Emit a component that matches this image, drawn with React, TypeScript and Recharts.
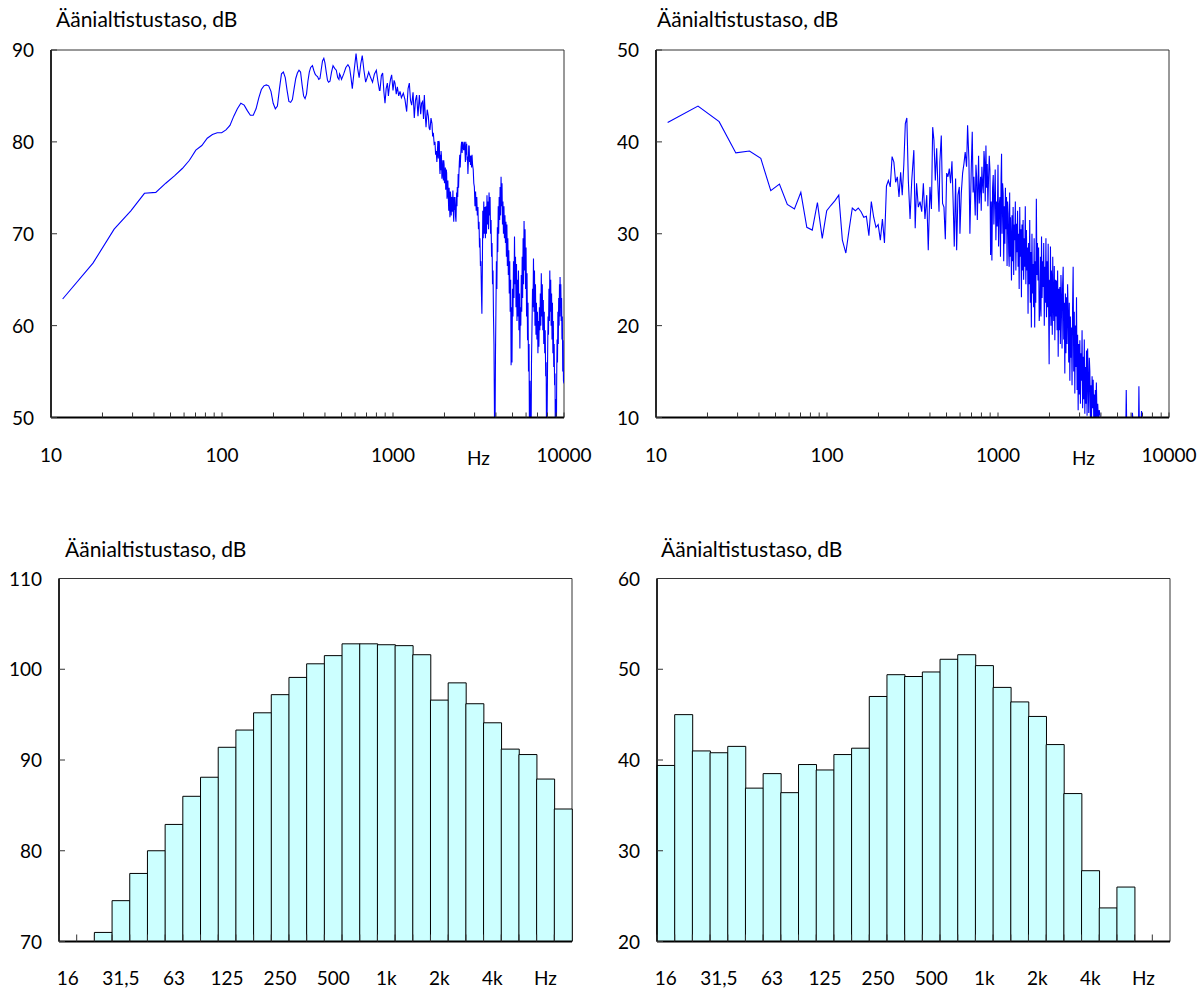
import React from 'react';
import { LineChart, Line, XAxis, YAxis, BarChart, Bar, ReferenceArea } from 'recharts';

const FONT = 'Lato, "Open Sans", "DejaVu Sans", sans-serif';
const TITLE = 'Äänialtistustaso, dB';

// Narrowband spectrum, upper-left panel: [frequency Hz, level dB]
const spectrumA: [number, number][] = [
  [11.7, 62.9], [17.6, 66.8], [23.4, 70.5], [29.3, 72.5], [35.2, 74.4], [41.0, 74.5], [46.9, 75.5], [52.7, 76.3],
  [58.6, 77.1], [64.5, 78.0], [70.3, 79.1], [76.2, 79.6], [82.0, 80.4], [87.9, 80.8], [93.8, 81.0], [99.6, 81.0],
  [105.5, 81.3], [111.3, 81.8], [117.2, 82.8], [123.0, 83.6], [128.9, 84.2], [134.8, 84.0], [140.6, 83.4],
  [146.5, 82.9], [152.3, 82.9], [158.2, 83.6], [164.1, 84.8], [169.9, 85.7], [175.8, 86.1], [181.6, 86.2],
  [187.5, 86.1], [193.4, 85.5], [199.2, 84.2], [205.1, 83.6], [210.9, 83.9], [216.8, 85.8], [222.7, 87.4],
  [228.5, 87.6], [234.4, 87.0], [240.2, 85.6], [246.1, 84.4], [252, 84.3], [258, 84.6], [264, 85.8], [270, 86.9],
  [276, 87.5], [282, 87.8], [288, 87.6], [294, 86.2], [300, 85.0], [306, 84.7], [312, 85.2], [318, 86.6],
  [324, 87.6], [330, 88.1], [338, 88.3], [344, 87.8], [350, 87.4], [356, 87.2], [362, 87.1], [368, 86.8],
  [374, 86.9], [380, 87.8], [387, 88.8], [394, 89.1], [400, 88.6], [407, 87.6], [414, 86.7], [420, 86.5],
  [428, 86.6], [437, 87.6], [446, 88.3], [456, 88.0], [466, 87.8], [475, 87.0], [483, 86.8], [487, 87.4],
  [493, 87.2], [500, 86.8], [515, 87.4], [530, 88.1], [545, 88.4], [557, 88.1], [568, 87.0], [578, 85.8],
  [593, 87.8], [608, 89.6], [621, 88.0], [634, 87.0], [648, 88.5], [661, 89.4], [676, 87.8], [692, 86.5],
  [706, 87.0], [721, 87.6], [740, 87.0], [759, 86.5], [779, 87.4], [799, 87.8], [816, 86.6], [833, 85.6],
  [839, 85.6], [855, 87.2], [870, 87.5], [884, 85.5], [898, 84.2], [912, 85.8], [927, 86.4], [940, 85.0],
  [952, 86.0], [967, 86.8], [982, 87.3], [1000, 85.6], [1015, 86.7], [1027, 86.4], [1045, 85.2], [1060, 86.0],
  [1080, 85.0], [1099, 85.5], [1120, 84.8], [1149, 85.3], [1175, 84.6], [1202, 83.3], [1225, 85.8], [1246, 86.4],
  [1266, 84.5], [1286, 84.0], [1310, 85.4], [1332, 82.6], [1353, 84.5], [1375, 85.1], [1400, 82.8], [1426, 85.1],
  [1452, 83.0], [1470, 84.2], [1491, 84.4], [1508, 82.5], [1525, 85.1], [1543, 83.0], [1560, 81.6], [1585, 83.5],
  [1609, 82.8], [1627, 81.5], [1645, 81.3], [1668, 82.6], [1690, 82.0], [1705, 80.6], [1721, 81.0], [1740, 79.8],
  [1760, 80.0], [1775, 78.6], [1790, 79.0], [1805, 77.8], [1816, 78.8], [1830, 80.1], [1841, 78.2], [1855, 80.1],
  [1866, 79.9], [1875, 77.2], [1883, 76.5], [1892, 78.6], [1900, 76.9], [1910, 79.0], [1920, 78.5], [1932, 76.0],
  [1944, 76.6], [1957, 78.0], [1970, 75.8], [1980, 78.0], [1990, 77.5], [2000, 75.5], [2010, 76.0], [2024, 77.2],
  [2033, 74.8], [2042, 75.2], [2050, 77.0], [2059, 76.6], [2070, 73.8], [2080, 74.5], [2093, 75.8], [2106, 74.0],
  [2118, 72.5], [2130, 75.0], [2142, 73.0], [2153, 71.8], [2165, 74.6], [2178, 74.0], [2190, 72.0], [2202, 74.0],
  [2215, 73.5], [2227, 72.4], [2240, 74.7], [2252, 72.5], [2266, 71.3], [2280, 74.0], [2292, 72.6], [2303, 74.0],
  [2320, 72.0], [2335, 71.3], [2346, 73.2], [2356, 74.5], [2366, 73.0], [2377, 75.1], [2390, 74.0], [2405, 76.5],
  [2418, 75.0], [2430, 76.6], [2444, 77.8], [2458, 78.6], [2472, 77.2], [2486, 78.4], [2503, 79.5], [2520, 80.0],
  [2536, 78.8], [2553, 80.0], [2572, 79.5], [2590, 79.1], [2612, 80.0], [2636, 79.0], [2650, 77.8], [2665, 80.0],
  [2680, 78.6], [2696, 79.8], [2711, 78.0], [2726, 78.4], [2742, 76.5], [2757, 77.7], [2773, 79.6], [2790, 79.5],
  [2805, 77.8], [2820, 78.5], [2840, 77.5], [2860, 78.5], [2880, 77.2], [2898, 78.6], [2920, 77.5], [2945, 77.0],
  [2968, 75.5], [2991, 75.1], [3015, 73.0], [3040, 74.6], [3065, 72.5], [3090, 74.0], [3113, 72.0], [3138, 72.9],
  [3160, 70.5], [3185, 71.3], [3205, 68.5], [3224, 69.5], [3245, 66.5], [3267, 67.0], [3290, 63.5], [3310, 61.3],
  [3330, 66.0], [3350, 72.5], [3371, 69.5], [3395, 73.5], [3420, 70.0], [3445, 72.9], [3470, 69.5], [3496, 73.0],
  [3520, 70.0], [3545, 74.2], [3570, 71.0], [3595, 73.5], [3620, 70.5], [3645, 74.5], [3670, 72.0], [3695, 74.0],
  [3720, 70.0], [3745, 71.5], [3770, 67.5], [3795, 69.0], [3820, 64.5], [3845, 66.0], [3870, 61.0], [3895, 58.0],
  [3915, 52.0], [3935, 45.0], [3955, 50.0], [3975, 57.0], [4000, 62.0], [4025, 67.0], [4050, 64.0], [4077, 70.7],
  [4100, 68.0], [4125, 73.0], [4150, 70.0], [4177, 74.0], [4205, 71.5], [4230, 75.1], [4258, 72.0], [4285, 76.2],
  [4312, 73.0], [4340, 75.5], [4368, 71.0], [4395, 73.5], [4425, 70.0], [4455, 73.0], [4485, 69.5], [4515, 72.0],
  [4545, 69.0], [4575, 71.3], [4605, 67.5], [4635, 71.0], [4665, 66.5], [4695, 69.5], [4725, 65.5], [4755, 68.2],
  [4785, 63.5], [4815, 67.0], [4845, 61.5], [4875, 65.0], [4905, 55.7], [4935, 62.0], [4965, 56.0], [5000, 64.0],
  [5030, 61.0], [5066, 67.0], [5100, 63.0], [5135, 69.7], [5170, 64.5], [5205, 67.5], [5240, 62.0], [5275, 66.7],
  [5310, 60.5], [5345, 65.0], [5380, 61.0], [5415, 66.0], [5450, 59.5], [5485, 63.5], [5520, 57.5], [5555, 62.0],
  [5590, 60.0], [5625, 65.5], [5660, 61.5], [5695, 67.5], [5730, 63.0], [5765, 69.5], [5800, 64.5], [5840, 71.4],
  [5880, 66.0], [5920, 70.5], [5960, 64.0], [6000, 68.5], [6040, 61.0], [6080, 65.7], [6120, 58.4], [6160, 62.5],
  [6200, 55.0], [6245, 58.0], [6290, 45.0], [6330, 54.0], [6370, 50.0], [6410, 45.0], [6455, 56.0], [6500, 60.0],
  [6545, 64.0], [6590, 62.0], [6630, 67.3], [6675, 61.5], [6720, 66.0], [6765, 60.0], [6810, 64.5], [6855, 59.0],
  [6900, 62.5], [6945, 58.5], [6990, 61.5], [7040, 57.0], [7085, 60.5], [7130, 57.7], [7180, 62.0], [7225, 59.5],
  [7270, 63.5], [7320, 60.0], [7366, 65.7], [7415, 61.0], [7465, 64.5], [7515, 59.5], [7565, 62.8], [7615, 58.0],
  [7665, 61.5], [7715, 57.0], [7765, 59.5], [7815, 54.5], [7865, 56.0], [7915, 45.0], [7965, 50.0], [8015, 56.0],
  [8065, 61.0], [8115, 59.0], [8165, 64.0], [8215, 60.5], [8260, 66.0], [8310, 61.5], [8360, 65.0], [8410, 60.0],
  [8460, 63.5], [8510, 58.5], [8560, 62.5], [8610, 57.0], [8660, 60.5], [8710, 55.5], [8760, 58.0], [8810, 53.5],
  [8860, 54.8], [8910, 45.0], [8960, 52.0], [9010, 45.0], [9060, 54.0], [9110, 58.5], [9160, 56.0], [9210, 61.5],
  [9260, 58.0], [9310, 63.0], [9360, 60.0], [9410, 64.5], [9460, 61.0], [9484, 65.3], [9530, 62.0], [9580, 64.5],
  [9630, 60.5], [9680, 63.0], [9730, 58.5], [9780, 61.0], [9830, 55.0], [9880, 58.4], [9930, 54.0], [10000, 53.7],
];

// Narrowband spectrum, upper-right panel: [frequency Hz, level dB]
const spectrumB: [number, number][] = [
  [11.7, 42.1], [17.6, 43.9], [23.4, 42.2], [29.3, 38.8], [35.2, 39.0], [41.0, 38.2], [46.9, 34.7], [52.7, 35.4],
  [58.6, 33.2], [64.5, 32.7], [70.3, 34.5], [76.2, 30.7], [82.0, 30.4], [87.9, 33.4], [93.8, 29.5], [99.6, 32.5],
  [105.5, 33.1], [111.3, 33.6], [117.2, 34.2], [123.0, 29.3], [128.9, 27.9], [134.8, 30.5], [140.6, 32.8],
  [146.5, 32.5], [152.3, 32.8], [158.2, 32.4], [164.1, 31.8], [169.9, 31.9], [175.8, 29.8], [181.6, 33.5],
  [187.5, 31.8], [193.4, 30.7], [199.2, 31.0], [205.1, 29.3], [210.9, 31.6], [216.8, 29.0], [222.7, 35.2],
  [228.5, 35.8], [234.4, 35.1], [240.2, 38.4], [246.1, 37.8], [252.0, 35.6], [257.8, 36.2], [263.7, 34.0],
  [269.5, 36.7], [275.4, 34.2], [281.3, 37.5], [287.1, 42.0], [293.0, 42.6], [299, 35.8], [306, 31.6], [313, 35.8],
  [322, 39.1], [328, 30.6], [334, 35.5], [342, 32.9], [350, 33.5], [358, 32.4], [366, 35.5], [374, 31.6],
  [383, 34.2], [391, 28.2], [400, 35.1], [408, 32.7], [415, 41.6], [422, 40.2], [430, 35.8], [438, 39.3],
  [444, 35.8], [452, 32.4], [457, 37.8], [466, 40.7], [474, 33.3], [483, 32.9], [492, 29.4], [501, 36.6],
  [510, 36.2], [519, 37.1], [528, 35.5], [538, 37.9], [548, 32.7], [555, 28.6], [565, 36.0], [573, 28.2],
  [583, 34.2], [594, 35.1], [599, 30.0], [610, 34.4], [621, 36.6], [632, 37.6], [643, 38.9], [655, 37.3],
  [664, 41.8], [676, 38.0], [685, 30.0], [698, 37.3], [707, 41.1], [715, 34.5], [723, 36.2], [736, 32.0],
  [743, 37.5], [750, 36.2], [757, 31.5], [763, 34.7], [770, 38.5], [777, 33.3], [784, 35.0], [791, 36.2],
  [798, 32.5], [805, 37.3], [812, 35.5], [820, 34.4], [828, 39.0], [835, 37.8], [842, 33.5], [850, 39.6],
  [857, 35.0], [865, 37.6], [873, 33.0], [881, 36.2], [889, 38.5], [897, 37.0], [905, 27.7], [913, 33.5],
  [921, 27.1], [930, 35.0], [938, 36.4], [946, 31.0], [955, 34.0], [963, 37.0], [972, 29.3], [981, 33.5],
  [990, 30.8], [1000, 37.5], [1008, 28.6], [1016, 33.0], [1026, 34.0], [1034, 27.5], [1042, 36.0], [1049, 38.7],
  [1056, 30.0], [1064, 35.5], [1072, 34.4], [1080, 27.0], [1089, 33.0], [1097, 28.9], [1105, 35.0], [1113, 30.5],
  [1121, 34.0], [1130, 26.5], [1138, 33.5], [1147, 32.2], [1155, 28.0], [1162, 26.4], [1170, 34.5], [1176, 27.5],
  [1183, 31.8], [1191, 29.0], [1199, 24.9], [1207, 32.0], [1216, 27.0], [1226, 32.9], [1235, 25.5], [1244, 31.0],
  [1254, 29.3], [1263, 33.5], [1272, 26.0], [1282, 31.1], [1292, 28.0], [1301, 32.5], [1311, 26.4], [1320, 30.0],
  [1330, 24.0], [1340, 32.9], [1350, 27.5], [1360, 30.5], [1371, 23.1], [1381, 31.0], [1391, 26.0], [1402, 31.5],
  [1412, 25.0], [1423, 29.5], [1434, 26.4], [1444, 33.0], [1455, 24.5], [1466, 30.4], [1477, 26.0], [1488, 28.5],
  [1499, 21.3], [1510, 29.0], [1521, 24.5], [1533, 31.5], [1545, 22.5], [1556, 28.0], [1567, 19.8], [1580, 30.0],
  [1591, 23.5], [1603, 26.7], [1615, 22.0], [1627, 29.5], [1639, 19.8], [1651, 27.0], [1663, 22.5], [1676, 33.8],
  [1689, 25.5], [1701, 29.0], [1714, 24.9], [1727, 28.5], [1742, 20.5], [1758, 22.0], [1771, 27.5], [1784, 21.0],
  [1797, 29.7], [1810, 23.0], [1824, 27.0], [1838, 24.2], [1851, 29.0], [1865, 20.0], [1879, 26.4], [1893, 22.5],
  [1907, 29.5], [1921, 20.9], [1936, 27.0], [1950, 22.0], [1965, 28.9], [1978, 21.5], [1991, 15.8], [2003, 25.0],
  [2015, 21.0], [2027, 28.6], [2040, 20.0], [2052, 26.0], [2064, 24.9], [2077, 19.0], [2090, 27.5], [2102, 23.1],
  [2118, 20.5], [2134, 26.5], [2150, 18.4], [2166, 25.0], [2182, 21.0], [2199, 24.9], [2216, 19.5], [2232, 26.0],
  [2249, 16.6], [2266, 24.0], [2283, 19.5], [2299, 24.2], [2316, 18.0], [2334, 25.5], [2351, 23.1], [2369, 17.5],
  [2387, 24.5], [2405, 26.4], [2423, 18.5], [2441, 22.5], [2459, 14.8], [2478, 23.5], [2496, 17.0], [2515, 23.1],
  [2534, 18.0], [2553, 24.5], [2572, 21.3], [2592, 16.0], [2611, 22.5], [2631, 14.0], [2650, 21.0], [2670, 16.5],
  [2690, 19.8], [2710, 13.5], [2730, 22.0], [2751, 26.4], [2772, 15.0], [2793, 21.5], [2814, 12.6], [2835, 20.0],
  [2856, 15.5], [2878, 23.1], [2900, 13.0], [2921, 19.0], [2943, 10.8], [2966, 18.0], [2988, 12.5], [3011, 18.4],
  [3034, 11.5], [3056, 17.0], [3079, 14.0], [3102, 19.5], [3125, 11.0], [3149, 16.6], [3172, 12.0], [3196, 18.5],
  [3220, 10.4], [3244, 15.5], [3268, 11.5], [3293, 17.3], [3318, 10.2], [3343, 17.5], [3368, 14.0], [3394, 10.5],
  [3419, 16.5], [3444, 15.1], [3470, 10.0], [3497, 13.5], [3523, 10.0], [3550, 14.5], [3576, 11.0], [3603, 14.1],
  [3630, 10.0], [3656, 12.5], [3680, 10.0], [3710, 13.0], [3735, 10.0], [3760, 13.8], [3795, 10.0], [3830, 11.5],
  [3860, 10.0], [3908, 10.8], [3960, 10.0], [5600, 10.0], [5623, 13.0], [5650, 10.0], [6080, 10.0], [6110, 10.5],
  [6140, 10.0], [6640, 10.0], [6668, 13.4], [6700, 10.0], [6880, 10.0], [6908, 10.7], [6940, 10.0], [10000, 10.0],
];

const logMajorTicks = [10, 100, 1000, 3162, 10000];
const logMajorLabels: Record<number, string> = { 10: '10', 100: '100', 1000: '1000', 3162: 'Hz', 10000: '10000' };
const logMinorTicks = [20, 30, 40, 50, 60, 70, 80, 90, 200, 300, 400, 500, 600, 700, 800, 900, 2000, 3000, 4000, 5000, 6000, 7000, 8000, 9000];
const yTicksA = [50, 60, 70, 80, 90];
const yTicksB = [10, 20, 30, 40, 50];

// One-third octave bands
const bands = ['16', '20', '25', '31,5', '40', '50', '63', '80', '100', '125', '160', '200', '250', '315', '400', '500', '630', '800', '1k', '1,25k', '1,6k', '2k', '2,5k', '3,15k', '4k', '5k', '6,3k', '8k', '10k'];
const bandLabels = ['16', '', '', '31,5', '', '', '63', '', '', '125', '', '', '250', '', '', '500', '', '', '1k', '', '', '2k', '', '', '4k', '', '', 'Hz', ''];
const levelsC = [null, null, 71.0, 74.5, 77.5, 80.0, 82.9, 86.0, 88.1, 91.4, 93.3, 95.2, 97.2, 99.1, 100.6, 101.5, 102.8, 102.8, 102.7, 102.6, 101.6, 96.6, 98.5, 96.2, 94.1, 91.2, 90.6, 87.9, 84.6];
const levelsD = [39.4, 45.0, 41.0, 40.8, 41.5, 36.9, 38.5, 36.4, 39.5, 38.9, 40.6, 41.3, 47.0, 49.4, 49.2, 49.7, 51.1, 51.6, 50.4, 48.0, 46.4, 44.8, 41.7, 36.3, 27.8, 23.7, 26.0, null, null];
const yTicksC = [70, 80, 90, 100, 110];
const yTicksD = [20, 30, 40, 50, 60];

const PLOT_W = 513;

const LogTick = (props: any) => {
  const { x, y, payload } = props;
  const label = logMajorLabels[payload.value];
  const isHz = label === 'Hz';
  return (
    <g>
      {!isHz && <line x1={x} y1={y} x2={x} y2={y - 5} stroke="#333" strokeWidth={1} />}
      {label !== undefined && (
        <text x={x} y={y + 44 + (isHz ? 3 : 0)} textAnchor="middle" fontFamily={FONT} fontSize={19} fill="#000">
          {label}
        </text>
      )}
    </g>
  );
};

const YTick = (props: any) => {
  const { x, y, payload } = props;
  return (
    <g>
      <line x1={x} y1={y} x2={x + 6} y2={y} stroke="#333" strokeWidth={1} />
      <text x={x - 17} y={y + 7} textAnchor="end" fontFamily={FONT} fontSize={19} fill="#000">
        {payload.value}
      </text>
    </g>
  );
};

const BandTick = (props: any) => {
  const { x, y, payload, index } = props;
  const half = PLOT_W / bands.length / 2;
  const label = bandLabels[index ?? bands.indexOf(payload.value)];
  return (
    <g>
      <line x1={x - half} y1={y} x2={x - half} y2={y - 7} stroke="#333" strokeWidth={1} />
      {label && (
        <text x={x} y={y + 43} textAnchor="middle" fontFamily={FONT} fontSize={19} fill="#000">
          {label}
        </text>
      )}
    </g>
  );
};

const LogPanel = ({ points, yDomain, yTicks, width, margin }: any) => {
  const rows = points.map(([f, v]: [number, number]) => ({ f, v }));
  const allTicks = [...logMajorTicks, ...logMinorTicks].sort((a, b) => a - b);
  return (
    <LineChart width={width} height={480} data={rows} margin={margin}>
      <ReferenceArea x1={10} x2={10000} y1={yDomain[0]} y2={yDomain[1]} fill="none" fillOpacity={0} stroke="#333" strokeWidth={1} ifOverflow="visible" />
      <XAxis
        dataKey="f"
        type="number"
        scale="log"
        domain={[10, 10000]}
        allowDataOverflow
        ticks={allTicks}
        interval={0}
        tickSize={0}
        tickMargin={0}
        tickLine={false}
        axisLine={{ stroke: '#000', strokeWidth: 2 }}
        tick={(p: any) => <LogTick {...p} />}
        height={30}
      />
      <YAxis
        type="number"
        domain={yDomain}
        allowDataOverflow
        ticks={yTicks}
        interval={0}
        tickSize={0}
        tickMargin={0}
        tickLine={false}
        axisLine={{ stroke: '#000', strokeWidth: 1.5 }}
        tick={(p: any) => <YTick {...p} />}
        width={40}
      />
      <Line dataKey="v" type="linear" stroke="#0000ff" strokeWidth={1.1} dot={false} activeDot={false} isAnimationActive={false} />
    </LineChart>
  );
};

const BandPanel = ({ levels, yDomain, yTicks, width, margin }: any) => {
  const rows = bands.map((b, i) => ({ band: b, level: levels[i] }));
  return (
    <BarChart width={width} height={489} data={rows} margin={margin} barCategoryGap={0} barGap={0}>
      <ReferenceArea y1={yDomain[0]} y2={yDomain[1]} fill="none" fillOpacity={0} stroke="#333" strokeWidth={1} ifOverflow="visible" />
      <XAxis
        dataKey="band"
        type="category"
        interval={0}
        tickSize={0}
        tickMargin={0}
        tickLine={false}
        axisLine={{ stroke: '#000', strokeWidth: 2 }}
        tick={(p: any) => <BandTick {...p} />}
        height={30}
      />
      <YAxis
        type="number"
        domain={yDomain}
        allowDataOverflow
        ticks={yTicks}
        interval={0}
        tickSize={0}
        tickMargin={0}
        tickLine={false}
        axisLine={{ stroke: '#000', strokeWidth: 1.5 }}
        tick={(p: any) => <YTick {...p} />}
        width={40}
      />
      <Bar dataKey="level" fill="#ccffff" stroke="#000" strokeWidth={1} isAnimationActive={false} />
    </BarChart>
  );
};

export default function App() {
  return (
    <div style={{ position: 'absolute', left: 0, top: 0, width: 1203, height: 989, background: '#fff', overflow: 'hidden' }}>
      <div style={{ position: 'absolute', left: 0, top: 0 }}>
        <LogPanel points={spectrumA} yDomain={[50, 90]} yTicks={yTicksA} width={600} margin={{ top: 50, right: 36, bottom: 32.5, left: 11 }} />
      </div>
      <div style={{ position: 'absolute', left: 600, top: 0 }}>
        <LogPanel points={spectrumB} yDomain={[10, 50]} yTicks={yTicksB} width={603} margin={{ top: 50, right: 34, bottom: 32.5, left: 16 }} />
      </div>
      <div style={{ position: 'absolute', left: 0, top: 500 }}>
        <BandPanel levels={levelsC} yDomain={[70, 110]} yTicks={yTicksC} width={600} margin={{ top: 78.5, right: 28, bottom: 17.5, left: 19 }} />
      </div>
      <div style={{ position: 'absolute', left: 600, top: 500 }}>
        <BandPanel levels={levelsD} yDomain={[20, 60]} yTicks={yTicksD} width={603} margin={{ top: 78.5, right: 33, bottom: 17.5, left: 17 }} />
      </div>
      <svg width={1203} height={989} style={{ position: 'absolute', left: 0, top: 0, pointerEvents: 'none' }}>
        <text x={56} y={27} fontFamily={FONT} fontSize={21} fill="#000">{TITLE}</text>
        <text x={657} y={27} fontFamily={FONT} fontSize={21} fill="#000">{TITLE}</text>
        <text x={65} y={557} fontFamily={FONT} fontSize={21} fill="#000">{TITLE}</text>
        <text x={661} y={557} fontFamily={FONT} fontSize={21} fill="#000">{TITLE}</text>
      </svg>
    </div>
  );
}
